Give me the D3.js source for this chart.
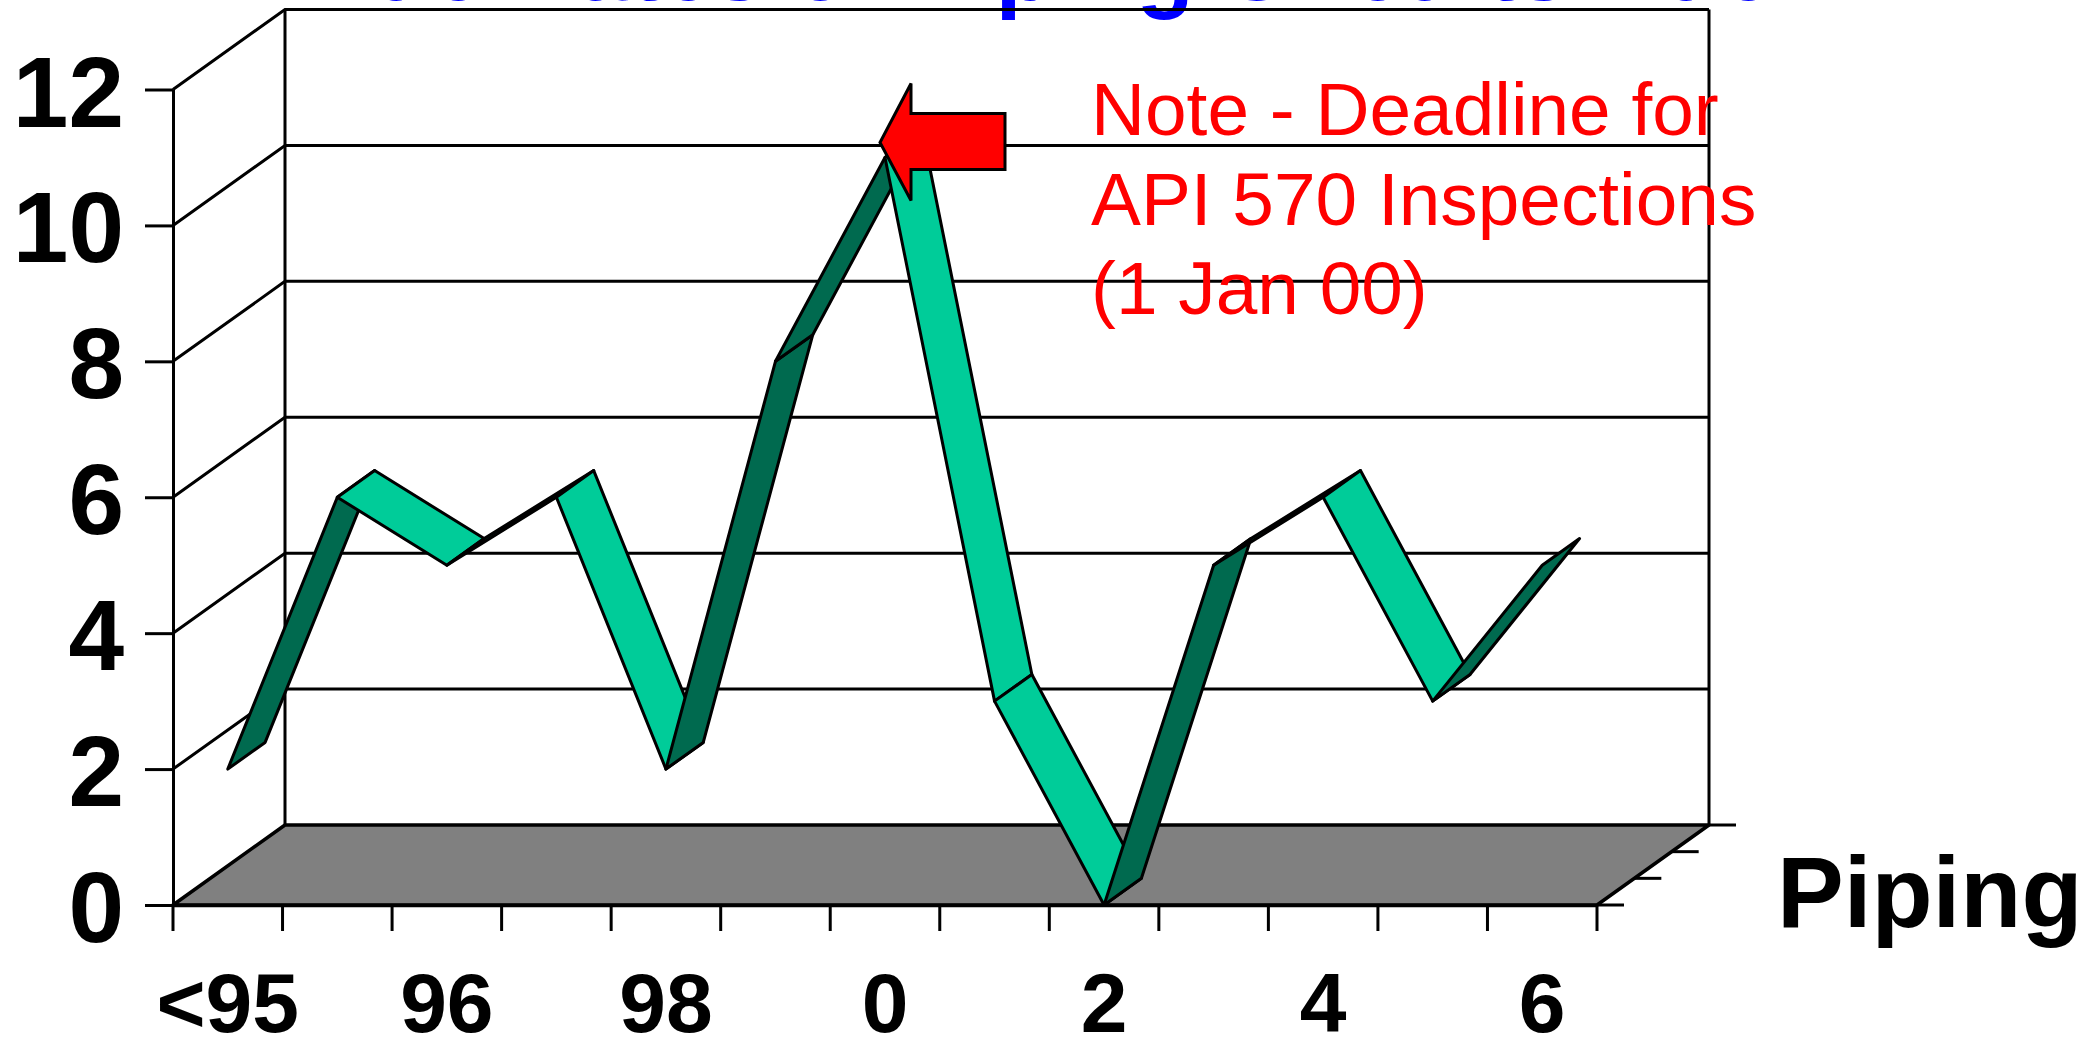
<!DOCTYPE html>
<html>
<head>
<meta charset="utf-8">
<script src="https://cdn.jsdelivr.net/npm/d3@7"></script>
<style>
html,body{margin:0;padding:0;background:#fff;overflow:hidden}
svg{display:block}
text{font-family:"Liberation Sans",Arial,sans-serif}
</style>
</head>
<body>
<svg id="c" width="2088" height="1041"></svg>
<script>
const categories = ["<95","95","96","97","98","99","0","1","2","3","4","5","6"];
const values = [2,6,5,6,2,8,11,3,0,5,6,3,5];
const yTicks = [0,2,4,6,8,10,12];
const xLabels = ["<95","96","98","0","2","4","6"];
const depthTicks = [0,1,2,3];
const noteLines = ["Note - Deadline for","API 570 Inspections","(1 Jan 00)"];
const titleText = "Due Dates of Piping Circuits Due";
const axisTitle = "Piping";

const svg = d3.select("#c");
const x = d3.scaleBand().domain(categories).range([173,1597]);
const y = d3.scaleLinear().domain([0,12]).range([905,89.5]);
// full depth of the 3D box, split in three depth steps
const depth = d3.scaleLinear().domain([0,3]);
const dx = depth.copy().range([0,112]);
const dy = depth.copy().range([0,-80]);
const ribbonDepth = 1;
const cx = c => x(c) + x.bandwidth()/2;
const line = "#000";
const sw = 3;

// title, clipped by the top of the page
svg.append("text").attr("x",306).attr("y",0)
  .attr("font-size",94).attr("font-weight","bold").attr("fill","#0000ff").text(titleText);

// left wall slants + back gridlines
const x0 = x.range()[0], x1 = x.range()[1];
svg.append("g").selectAll("path").data(yTicks.filter(d=>d>0)).join("path")
  .attr("fill","none").attr("stroke",line).attr("stroke-width",sw)
  .attr("d",d=>`M${x0},${y(d)}L${x0+dx(3)},${y(d)+dy(3)}L${x1+dx(3)},${y(d)+dy(3)}`);
// back wall verticals
svg.append("g").selectAll("line").data([x0+dx(3),x1+dx(3)]).join("line")
  .attr("x1",d=>d).attr("x2",d=>d).attr("y1",y(12)+dy(3)).attr("y2",y(0)+dy(3))
  .attr("stroke",line).attr("stroke-width",sw);

// floor
svg.append("path")
  .attr("d",`M${x0},${y(0)}L${x0+dx(3)},${y(0)+dy(3)}L${x1+dx(3)},${y(0)+dy(3)}L${x1},${y(0)}Z`)
  .attr("fill","#808080").attr("stroke",line).attr("stroke-width",3.5).attr("stroke-linejoin","round");

// y axis
const yAxis = d3.axisLeft(y).tickValues(yTicks).tickSize(28).tickPadding(21).tickSizeOuter(0);
const gy = svg.append("g").attr("transform",`translate(${x0},0)`).call(yAxis);
gy.selectAll("path,line").attr("stroke",line).attr("stroke-width",sw);
gy.selectAll("text").attr("font-size",100).attr("font-weight","bold").attr("fill","#000")
  .attr("dy","0.365em").style("font-family",'"Liberation Sans",Arial,sans-serif');

// x axis tick marks at category boundaries
const bounds = categories.map(c=>x(c)).concat([x1]);
svg.append("g").selectAll("line").data(bounds).join("line")
  .attr("x1",d=>d).attr("x2",d=>d).attr("y1",y(0)).attr("y2",y(0)+26)
  .attr("stroke",line).attr("stroke-width",sw);

// x labels
const xAxis = d3.axisBottom(x).tickValues(xLabels).tickSize(0).tickPadding(0);
const gx = svg.append("g").attr("transform",`translate(0,${y(0)})`).call(xAxis);
gx.select(".domain").attr("stroke",line).attr("stroke-width",3.5);
gx.selectAll("text").attr("font-size",84).attr("font-weight","bold").attr("fill","#000")
  .attr("y",0).attr("dy",127).style("font-family",'"Liberation Sans",Arial,sans-serif');

// depth ticks on the right edge of the floor
svg.append("g").selectAll("line").data(depthTicks).join("line")
  .attr("x1",d=>x1+dx(d)).attr("x2",d=>x1+dx(d)+27)
  .attr("y1",d=>y(0)+dy(d)).attr("y2",d=>y(0)+dy(d))
  .attr("stroke",line).attr("stroke-width",sw);

// ribbon
const segs = d3.pairs(values.map((v,i)=>({px:cx(categories[i]),py:y(v)})));
const rx = dx(ribbonDepth), ry = dy(ribbonDepth);
svg.append("g").selectAll("path").data(segs).join("path")
  .attr("d",([a,b])=>`M${a.px},${a.py}L${b.px},${b.py}L${b.px+rx},${b.py+ry}L${a.px+rx},${a.py+ry}Z`)
  // the top face is seen unless the ribbon climbs faster than the depth direction
  .attr("fill",([a,b])=>((b.px-a.px)*ry-(b.py-a.py)*rx) > 0 ? "#006a4f" : "#00cc99")
  .attr("stroke",line).attr("stroke-width",sw).attr("stroke-linejoin","round");

// note
svg.append("g").selectAll("text").data(noteLines).join("text")
  .attr("x",1091).attr("y",(d,i)=>[135,225,314][i])
  .attr("font-size",74.8).attr("fill","#ff0000").text(d=>d);

// arrow pointing at the peak
const peak = values.indexOf(d3.max(values));
const ax = cx(categories[peak]) - 5, ay = y(values[peak]) - 15;
svg.append("path")
  .attr("d",d3.line()([[ax,ay],[ax+31,ay-59],[ax+31,ay-29],[ax+125,ay-29],[ax+125,ay+27],[ax+31,ay+27],[ax+31,ay+58]])+"Z")
  .attr("fill","#ff0000").attr("stroke",line).attr("stroke-width",sw).attr("stroke-linejoin","miter");

// axis title
svg.append("text").attr("x",1777).attr("y",927)
  .attr("font-size",100).attr("font-weight","bold").attr("fill","#000").text(axisTitle);
</script>
</body>
</html>
